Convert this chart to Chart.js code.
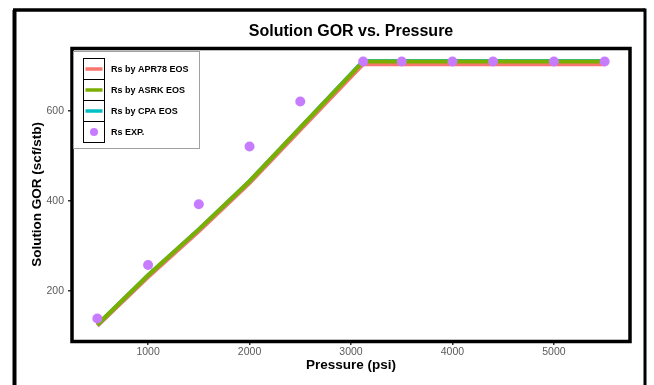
<!DOCTYPE html>
<html>
<head>
<meta charset="utf-8">
<title>Solution GOR vs. Pressure</title>
<script src="https://cdn.jsdelivr.net/npm/chart.js@4/dist/chart.umd.min.js"></script>
<style>
  html, body { margin: 0; padding: 0; background: #fff; }
  #wrap { width: 654px; height: 385px; }
</style>
</head>
<body>
<div id="wrap"><canvas id="gor-chart" width="654" height="385"></canvas></div>
<script>
// Pressure points (psi)
const pressure = [500, 1000, 1500, 2000, 2500, 3120, 3500, 4000, 4400, 5000, 5500];

// Solution GOR (scf/stb) per model
const rsApr78 = [123, 231, 333, 440, 558, 704, 704, 704, 704, 704, 704];
const rsAsrk = [125, 235, 337, 444, 563, 710, 710, 710, 710, 710, 710];
const rsCpa = [125, 235, 337, 444, 563, 711, 711, 711, 711, 711, 711];
const rsExp = [139, 258, 393, 521, 621, 710, 710, 710, 710, 710, 710];

// Axis ticks
const xTicks = [1000, 2000, 3000, 4000, 5000];
const yTicks = [200, 400, 600];

const FONT = "'Liberation Sans', Arial, sans-serif";

function toPoints(values) {
    return pressure.map((p, i) => ({ x: p, y: values[i] }));
}

function lineDataset(label, values, color, order) {
    return {
        label: label,
        data: toPoints(values),
        showLine: true,
        borderColor: color,
        backgroundColor: color,
        borderWidth: 4,
        pointRadius: 0,
        tension: 0,
        order: order
    };
}

// Frames, title and legend drawn around the plot
const decorations = {
    id: 'decorations',
    beforeDraw(chart) {
        let ctx = chart.ctx;
        ctx.save();
        ctx.fillStyle = '#fff';
        ctx.fillRect(0, 0, chart.width, chart.height);
        ctx.strokeStyle = '#000';
        ctx.lineWidth = 4;
        ctx.beginPath();
        ctx.moveTo(14.5, 390);
        ctx.lineTo(14.5, 10);
        ctx.stroke();
        ctx.lineWidth = 3.5;
        ctx.beginPath();
        ctx.moveTo(13, 10);
        ctx.lineTo(645, 10);
        ctx.stroke();
        ctx.lineWidth = 3;
        ctx.beginPath();
        ctx.moveTo(645, 8.5);
        ctx.lineTo(645, 390);
        ctx.stroke();
        ctx.restore();
    },
    afterDatasetsDraw(chart) {
        let ctx = chart.ctx;
        let a = chart.chartArea;
        ctx.save();
        ctx.strokeStyle = '#000';
        ctx.lineWidth = 3.5;
        ctx.strokeRect(a.left, a.top + 0.5, a.right - a.left, a.bottom - a.top);
        ctx.restore();
    },
    afterDraw(chart) {
        let ctx = chart.ctx;
        let a = chart.chartArea;
        ctx.save();

        // title
        ctx.fillStyle = '#000';
        ctx.font = 'bold 16px ' + FONT;
        ctx.textAlign = 'center';
        ctx.textBaseline = 'middle';
        ctx.fillText('Solution GOR vs. Pressure', (a.left + a.right) / 2, 32);

        // legend box
        ctx.fillStyle = '#fff';
        ctx.fillRect(73, 51, 126, 97);
        ctx.strokeStyle = '#a0a0a0';
        ctx.lineWidth = 1;
        ctx.strokeRect(73.5, 51.5, 126, 97);

        let keyX = 83.5, keyY = 58.5, keyW = 21, keyH = 21;
        ctx.font = 'bold 9px ' + FONT;
        ctx.textAlign = 'left';
        chart.data.datasets.forEach((ds, i) => {
            let y = keyY + i * keyH;
            ctx.strokeStyle = '#000';
            ctx.lineWidth = 1;
            ctx.strokeRect(keyX, y, keyW, keyH);
            let cy = y + keyH / 2;
            if (ds.showLine) {
                ctx.strokeStyle = ds.borderColor;
                ctx.lineWidth = 3.5;
                ctx.beginPath();
                ctx.moveTo(keyX + 2, cy);
                ctx.lineTo(keyX + keyW - 2, cy);
                ctx.stroke();
            } else {
                ctx.fillStyle = ds.backgroundColor;
                ctx.beginPath();
                ctx.arc(keyX + keyW / 2, cy, 4, 0, Math.PI * 2);
                ctx.fill();
            }
            ctx.fillStyle = '#000';
            ctx.fillText(ds.label, 111, cy + 0.5);
        });
        ctx.restore();
    }
};

let ctx = document.getElementById('gor-chart').getContext('2d');
window.gorChart = new Chart(ctx, {
    type: 'scatter',
    data: {
        datasets: [
            lineDataset('Rs by APR78 EOS', rsApr78, '#F8766D', 3),
            lineDataset('Rs by ASRK EOS', rsAsrk, '#7CAE00', 1),
            lineDataset('Rs by CPA EOS', rsCpa, '#00BFC4', 2),
            {
                label: 'Rs EXP.',
                data: toPoints(rsExp),
                showLine: false,
                backgroundColor: '#C77CFF',
                borderColor: '#C77CFF',
                borderWidth: 0,
                pointRadius: 5,
                order: 0
            }
        ]
    },
    options: {
        responsive: false,
        animation: false,
        devicePixelRatio: 1,
        layout: { padding: { top: 48, right: 24, left: 0, bottom: 0 } },
        plugins: {
            legend: { display: false },
            tooltip: { enabled: false },
            title: { display: false }
        },
        scales: {
            x: {
                type: 'linear',
                min: 250,
                max: 5750,
                afterBuildTicks: (scale) => { scale.ticks = xTicks.map(v => ({ value: v })); },
                afterFit: (scale) => { scale.height = 44; },
                grid: { drawOnChartArea: false, tickLength: 4, color: '#333', lineWidth: 1.5 },
                border: { display: false },
                ticks: {
                    color: '#5a5a5a',
                    padding: 1,
                    font: { family: FONT, size: 10.5 },
                    callback: (value) => String(value)
                },
                title: {
                    display: true,
                    text: 'Pressure (psi)',
                    color: '#000',
                    padding: { top: 0, bottom: 12 },
                    font: { family: FONT, size: 13.5, weight: 'bold' }
                }
            },
            y: {
                type: 'linear',
                min: 89,
                max: 740,
                afterBuildTicks: (scale) => { scale.ticks = yTicks.map(v => ({ value: v })); },
                afterFit: (scale) => { scale.width = 72; },
                grid: { drawOnChartArea: false, tickLength: 4, color: '#333', lineWidth: 1.5 },
                border: { display: false },
                ticks: {
                    color: '#5a5a5a',
                    padding: 4,
                    font: { family: FONT, size: 10.5 },
                    callback: (value) => String(value)
                },
                title: {
                    display: true,
                    text: 'Solution GOR (scf/stb)',
                    color: '#000',
                    padding: { top: 29, bottom: 0 },
                    font: { family: FONT, size: 13.5, weight: 'bold' }
                }
            }
        }
    },
    plugins: [decorations]
});
</script>
</body>
</html>
